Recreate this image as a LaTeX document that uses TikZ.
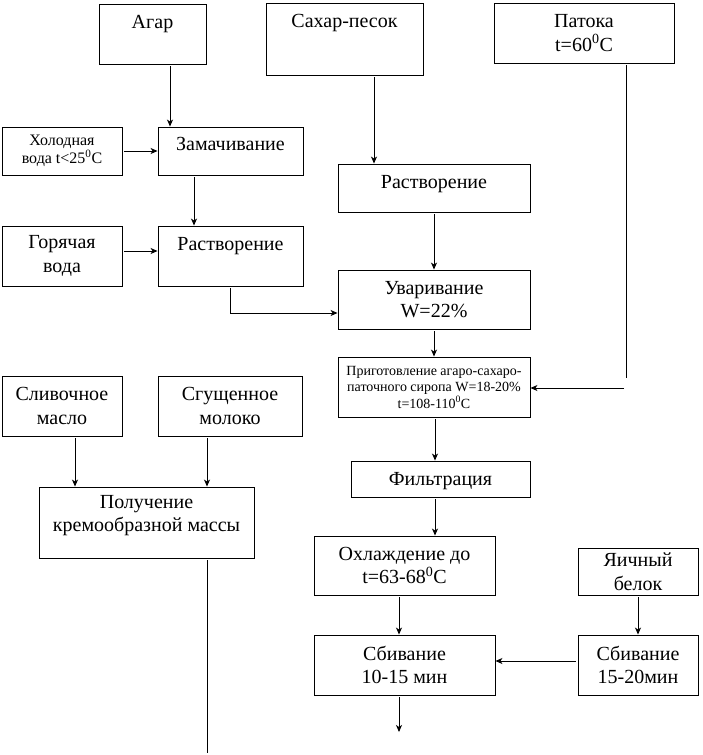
\documentclass[tikz,border=0pt]{standalone}
\usepackage{fontspec}
\setmainfont{Liberation Serif}
\usetikzlibrary{arrows.meta}

\begin{document}
\begin{tikzpicture}[x=1pt,y=-1pt,
		box/.style={draw, line width=0.9pt, inner sep=0pt, align=center, font=\fontsize{20}{23.5}\selectfont},
		oneline/.style={text height=13pt, text depth=#1},
		lowfont/.style={font=\fontsize{16}{17.5}\selectfont},
		sirfont/.style={font=\fontsize{14}{16.5}\selectfont},
		arr/.style={line width=0.9pt, shorten <=2pt, -{Stealth[length=7pt,width=6pt,inset=2pt]}}]
			\useasboundingbox (0,0) rectangle (702,755);
			% raw materials
			\node (agar)[box, oneline=25pt, minimum width=107pt, minimum height=60pt] at (152.5,34) {Агар};
			\node (sahar)[box, oneline=37pt, minimum width=157pt, minimum height=72pt] at (344.5,39) {Сахар-песок};
			\node (patoka)[box, minimum width=180pt, minimum height=60pt] at (584,33) {Патока\\t=60\textsuperscript{0}C};
			\node (holod)[box, lowfont, minimum width=120pt, minimum height=48pt] at (62,151) {Холодная\\вода t<25\textsuperscript{0}C};
			\node (zam)[box, oneline=14pt, minimum width=145pt, minimum height=48pt] at (230.5,151) {Замачивание};
			\node (gor)[box, minimum width=120pt, minimum height=60pt] at (62,256) {Горячая\\вода};
			\node (rastv1)[box, oneline=24pt, minimum width=145pt, minimum height=60pt] at (230.5,256) {Растворение};
			\node (rastv2)[box, oneline=12pt, minimum width=192pt, minimum height=48pt] at (434,188) {Растворение};
			\node (uvar)[box, minimum width=192pt, minimum height=59pt] at (434,299.5) {Уваривание\\W=22\%};
			\node (sirop)[box, sirfont, minimum width=192pt, minimum height=60pt] at (434,387) {Приготовление агаро-сахаро-\\паточного сиропа W=18-20\%\\t=108-110\textsuperscript{0}C};
			\node (filtr)[box, oneline=0pt, minimum width=179pt, minimum height=36pt] at (440.5,479) {Фильтрация};
			\node (ohl)[box, minimum width=181pt, minimum height=59pt] at (404.5,565.5) {Охлаждение до\\t=63-68\textsuperscript{0}C};
			\node (sbiv1)[box, minimum width=181pt, minimum height=60pt] at (404.5,665) {Сбивание\\10-15 мин};
			\node (yaich)[box, minimum width=120pt, minimum height=47pt] at (638,571.5) {Яичный\\белок};
			\node (sbiv2)[box, minimum width=120pt, minimum height=60pt] at (638,665) {Сбивание\\15-20мин};
			% cream part
			\node (slivm)[box, minimum width=120pt, minimum height=60pt] at (62,406) {Сливочное\\масло};
			\node (sgush)[box, minimum width=144pt, minimum height=60pt] at (230,406) {Сгущенное\\молоко};
			\node (poluch)[box, minimum width=215pt, minimum height=71pt] at (146.5,522.5) {Получение\\кремообразной массы\\[-12pt]\strut};
			
			\coordinate (pv) at (626,378);
			\coordinate (ph) at (626,388);
			\coordinate (out1) at (399,732);
			\coordinate (out2) at (207,753);
			
			\draw[arr] (agar.south -| 170,0) -- (zam.north -| 170,0);
			\draw[arr] (holod.east) -- (zam.west);
			\draw[arr] (zam.south -| 194,0) -- (rastv1.north -| 194,0);
			\draw[arr] (gor.east |- 0,251) -- (rastv1.west |- 0,251);
			\draw[arr] (rastv1.south) |- (uvar.west |- 0,313);
			\draw[arr] (sahar.south -| 374,0) -- (rastv2.north -| 374,0);
			\draw[arr] (rastv2) -- (uvar);
			\draw[arr] (uvar) -- (sirop);
			\draw[line width=0.9pt, shorten <=2pt] (patoka.south -| pv) -- (pv);
			\draw[arr] (ph) -- (sirop.east |- ph);
			\draw[arr] (sirop.south -| 435,0) -- (filtr.north -| 435,0);
			\draw[arr] (filtr.south -| 435,0) -- (ohl.north -| 435,0);
			\draw[arr] (ohl.south -| 399,0) -- (sbiv1.north -| 399,0);
			\draw[arr] (yaich) -- (sbiv2);
			\draw[arr] (sbiv2.west |- 0,661) -- (sbiv1.east |- 0,661);
			\draw[arr] (sbiv1.south -| out1) -- (out1);
			\draw[arr] (slivm.south -| 75,0) -- (poluch.north -| 75,0);
			\draw[arr] (sgush.south -| 207,0) -- (poluch.north -| 207,0);
			\draw[line width=0.9pt, shorten <=2pt] (poluch.south -| out2) -- (out2);
		\end{tikzpicture}
\end{document}
